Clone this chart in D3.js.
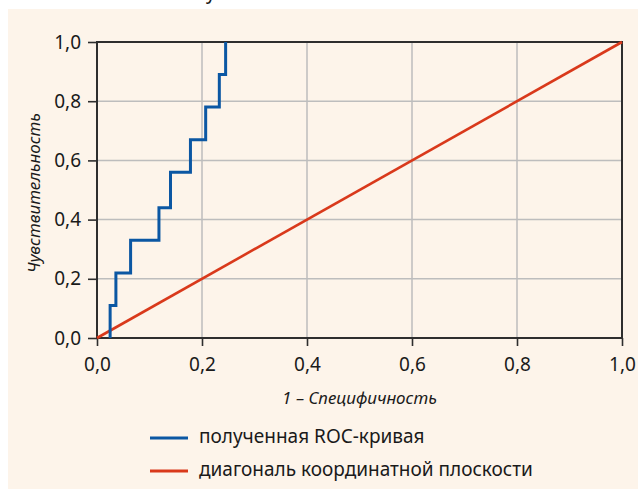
<!DOCTYPE html>
<html>
<head>
<meta charset="utf-8">
<script src="https://cdn.jsdelivr.net/npm/d3@7"></script>
<style>
  html, body { margin: 0; padding: 0; background: #ffffff; }
  svg { display: block; }
  text { font-family: "Noto Sans", sans-serif; fill: #1a1a1a; }
</style>
</head>
<body>
<svg id="chart" width="638" height="489"></svg>
<script>
// ---- data ----
const rocFpr = [0.025, 0.036, 0.064, 0.118, 0.140, 0.178, 0.207, 0.233, 0.245];
const rocTpr = [0.00, 0.11, 0.22, 0.33, 0.44, 0.56, 0.67, 0.78, 0.89, 1.00];
const diagX = [0, 1];
const diagY = [0, 1];
const tickValues = [0, 0.2, 0.4, 0.6, 0.8, 1.0];
const xTitle = "1 – Специфичность";
const yTitle = "Чувствительность";
const legendLabels = ["полученная ROC-кривая", "диагональ координатной плоскости"];
const colors = ["#0b57a3", "#d9391b"];

const svg = d3.select("#chart");
const W = 638, H = 489;
const margin = { left: 97, right: 16, top: 42, bottom: 151 };
const iw = W - margin.left - margin.right;
const ih = H - margin.top - margin.bottom;

// background panel
svg.append("rect").attr("x", 8).attr("y", 9).attr("width", W - 8).attr("height", H - 9).attr("fill", "#fdf4ea");
// fragment of caption above (cut off in the reference)
svg.append("text").attr("x", 206).attr("y", -1.5).style("font-size", "19px").text("у");

const g = svg.append("g").attr("transform", `translate(${margin.left},${margin.top})`);
const x = d3.scaleLinear().domain([0, 1]).range([0, iw]);
const y = d3.scaleLinear().domain([0, 1]).range([ih, 0]);
const fmt = d => d3.format(".1f")(d).replace(".", ",");

// grid
g.append("g").selectAll("line").data(tickValues.slice(1, -1)).join("line")
  .attr("x1", d => x(d)).attr("x2", d => x(d)).attr("y1", 0).attr("y2", ih)
  .attr("stroke", "#bdbdbd").attr("stroke-width", 1.5);
g.append("g").selectAll("line").data(tickValues.slice(1, -1)).join("line")
  .attr("y1", d => y(d)).attr("y2", d => y(d)).attr("x1", 0).attr("x2", iw)
  .attr("stroke", "#bdbdbd").attr("stroke-width", 1.5);

// axes
const xAxis = g.append("g").attr("transform", `translate(0,${ih})`)
  .call(d3.axisBottom(x).tickValues(tickValues).tickFormat(fmt).tickSize(8).tickSizeOuter(0).tickPadding(12));
const yAxis = g.append("g")
  .call(d3.axisLeft(y).tickValues(tickValues).tickFormat(fmt).tickSize(9).tickSizeOuter(0).tickPadding(7));
[xAxis, yAxis].forEach(a => {
  a.select(".domain").remove();
  a.selectAll(".tick line").attr("stroke", "#2e2e2e").attr("stroke-width", 1.6);
  a.selectAll(".tick text").style("font-size", "19px").attr("fill", "#1a1a1a");
});

// frame
g.append("rect").attr("x", 0).attr("y", 0).attr("width", iw).attr("height", ih)
  .attr("fill", "none").attr("stroke", "#2e2e2e").attr("stroke-width", 2);

// diagonal
g.append("path")
  .datum(diagX.map((d, i) => [d, diagY[i]]))
  .attr("d", d3.line().x(d => x(d[0])).y(d => y(d[1])))
  .attr("fill", "none").attr("stroke", colors[1]).attr("stroke-width", 2.6);

// ROC step curve: rise vertically at each fpr, then move horizontally
const rocPts = [];
rocFpr.forEach((f, i) => {
  rocPts.push([f, rocTpr[i]]);
  rocPts.push([f, rocTpr[i + 1]]);
});
g.append("path")
  .datum(rocPts)
  .attr("d", d3.line().x(d => x(d[0])).y(d => y(d[1])))
  .attr("fill", "none").attr("stroke", colors[0]).attr("stroke-width", 3).attr("stroke-linejoin", "miter");

// axis titles
svg.append("text").attr("x", margin.left + iw / 2).attr("y", 404).attr("text-anchor", "middle")
  .style("font-size", "17px").style("font-style", "italic").text(xTitle);
svg.append("text").attr("transform", `translate(40,${193}) rotate(-90)`).attr("text-anchor", "middle")
  .style("font-size", "17px").style("font-style", "italic").text(yTitle);

// legend
const leg = svg.append("g");
legendLabels.forEach((lab, i) => {
  const yy = 438 + i * 33;
  leg.append("line").attr("x1", 150).attr("x2", 188).attr("y1", yy).attr("y2", yy)
    .attr("stroke", colors[i]).attr("stroke-width", 3);
  leg.append("text").attr("x", 199).attr("y", yy + 4.5).style("font-size", "19px").text(lab);
});
</script>
</body>
</html>
